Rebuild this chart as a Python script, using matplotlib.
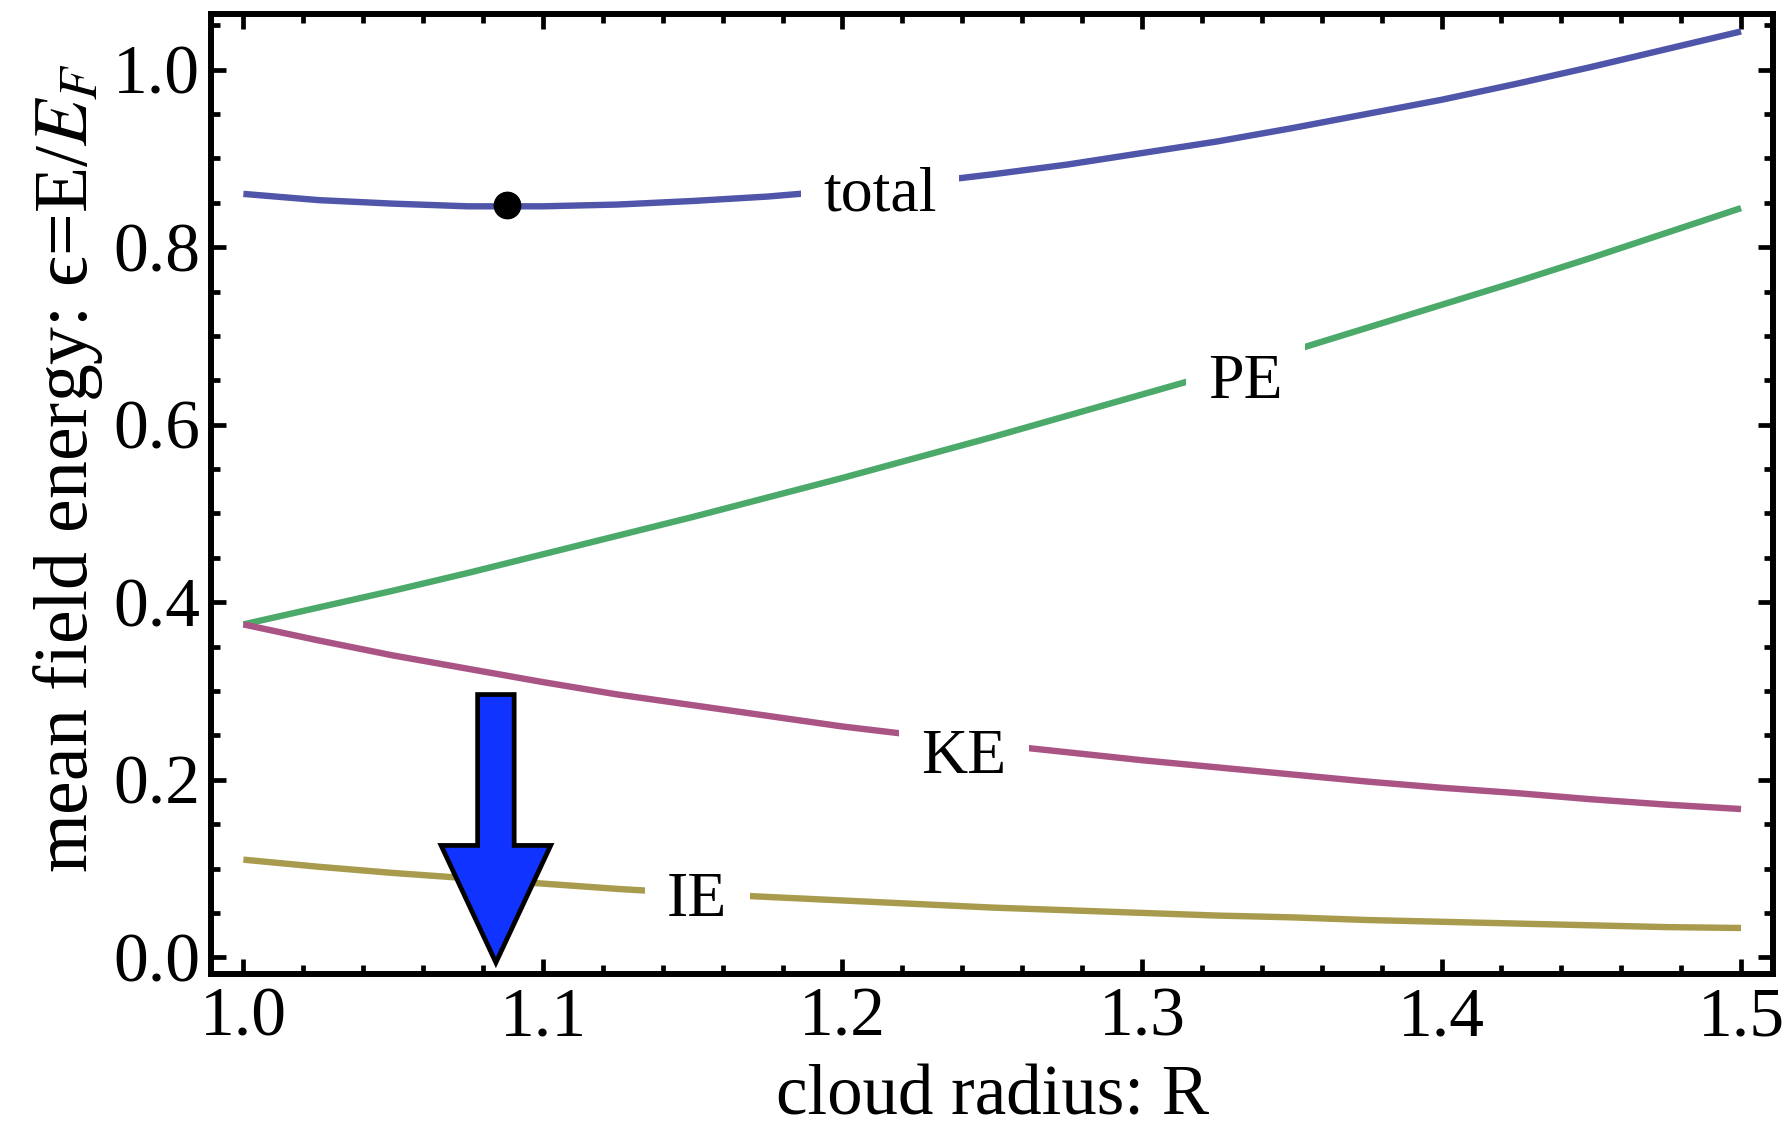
import matplotlib
matplotlib.use("Agg")
import matplotlib.pyplot as plt
from matplotlib.ticker import MultipleLocator

plt.rcParams['font.family'] = ['Liberation Serif', 'DejaVu Serif']
plt.rcParams['mathtext.fontset'] = 'stix'

# Data
R = [1.000, 1.025, 1.050, 1.075, 1.100, 1.125, 1.150, 1.175, 1.200, 1.225, 1.250,
     1.275, 1.300, 1.325, 1.350, 1.375, 1.400, 1.425, 1.450, 1.475, 1.500]
total = [0.860, 0.853, 0.849, 0.846, 0.846, 0.848, 0.852, 0.857, 0.864, 0.872, 0.882,
         0.893, 0.906, 0.919, 0.934, 0.950, 0.966, 0.984, 1.003, 1.023, 1.043]
PE = [0.375, 0.394, 0.413, 0.433, 0.454, 0.475, 0.496, 0.518, 0.540, 0.563, 0.586,
      0.610, 0.634, 0.658, 0.683, 0.709, 0.735, 0.761, 0.788, 0.816, 0.844]
KE = [0.375, 0.357, 0.340, 0.325, 0.310, 0.296, 0.284, 0.272, 0.260, 0.250, 0.240,
      0.231, 0.222, 0.214, 0.206, 0.198, 0.191, 0.185, 0.178, 0.172, 0.167]
IE = [0.110, 0.102, 0.095, 0.089, 0.083, 0.077, 0.072, 0.068, 0.064, 0.060, 0.056,
      0.053, 0.050, 0.047, 0.045, 0.042, 0.040, 0.038, 0.036, 0.034, 0.033]
min_point = (1.088, 0.847)
labels = ["total", "PE", "KE", "IE"]
label_x = [1.2125, 1.3345, 1.2405, 1.1515]
label_y = [0.858, 0.647, 0.224, 0.063]
arrow_x = 1.0843
arrow_top = 0.296
arrow_tip = -0.006

colors = ["#4F55A9", "#4BA96A", "#AA5385", "#A99B4D"]

fig = plt.figure(figsize=(17.91, 11.41), dpi=100)
ax = fig.add_axes([0.118, 0.146, 0.872, 0.842])

for ys, c in zip([total, PE, KE, IE], colors):
    ax.plot(R, ys, color=c, lw=4.6, solid_capstyle='butt', zorder=2)

for t, x, y in zip(labels, label_x, label_y):
    ax.text(x, y, t, fontsize=46, ha='center', va='center', zorder=3,
            bbox=dict(facecolor='white', edgecolor='none', pad=16))

ax.plot([min_point[0]], [min_point[1]], 'o', color='black', markersize=19, zorder=4)

ax.arrow(arrow_x, arrow_top, 0, arrow_tip - arrow_top, width=0.0122,
         head_width=0.0366, head_length=0.132, length_includes_head=True,
         facecolor='#1033FF', edgecolor='black', linewidth=3.4, zorder=5)

ax.set_xlim(0.9893, 1.5107)
ax.set_ylim(-0.0193, 1.063)
ax.set_xticks([1.0, 1.1, 1.2, 1.3, 1.4, 1.5])
ax.set_yticks([0.0, 0.2, 0.4, 0.6, 0.8, 1.0])
ax.xaxis.set_minor_locator(MultipleLocator(0.02))
ax.yaxis.set_minor_locator(MultipleLocator(0.05))
ax.tick_params(which='both', direction='in', top=True, right=True, width=3.4)
ax.tick_params(which='major', length=11, labelsize=50)
ax.tick_params(axis='x', which='major', pad=9)
ax.tick_params(axis='y', which='major', pad=8)
ax.tick_params(which='minor', length=6.5)
for s in ax.spines.values():
    s.set_linewidth(4.3)

ax.set_xlabel("cloud radius: R", fontsize=51, labelpad=10)
ax.set_ylabel("mean field energy: ϵ=E/$E_F$", fontsize=54.5, labelpad=12)
ax.yaxis.set_label_coords(-0.068, 0.527)

fig.savefig("out.png", dpi=100)
